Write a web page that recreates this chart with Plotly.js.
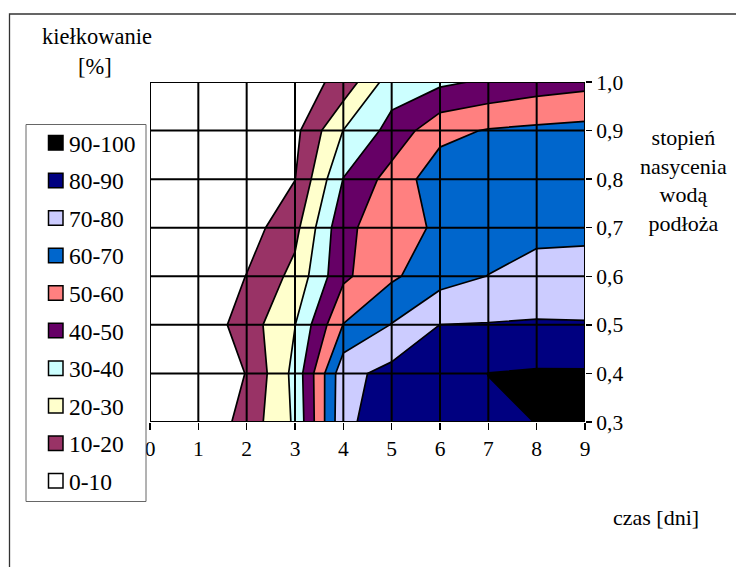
<!DOCTYPE html>
<html>
<head>
<meta charset="utf-8">
<script src="https://cdn.plot.ly/plotly-3.0.1.min.js"></script>
<style>
  html, body { margin: 0; padding: 0; background: #ffffff; }
  #chart { width: 736px; height: 567px; }
</style>
</head>
<body>
<div id="chart"></div>
<script>
// time axis [days] and water saturation of the substrate
const days = [0, 1, 2, 3, 4, 5, 6, 7, 8, 9];
const saturation = [0.3, 0.4, 0.5, 0.6, 0.7, 0.8, 0.9, 1.0];
const dayLabels = ['0', '1', '2', '3', '4', '5', '6', '7', '8', '9'];
const saturationLabels = ['0,3', '0,4', '0,5', '0,6', '0,7', '0,8', '0,9', '1,0'];

// germination [%] for each saturation level, one value per day
const germ03 = [0, 1.0, 14.0, 31.5, 78.0, 85.0, 87.0, 88.5, 90.1, 92.0];
const germ04 = [0, 0.0, 10.4, 33.0, 77.0, 83.0, 86.0, 90.1, 91.0, 91.0];
const germ05 = [0, 2.5, 15.0, 29.8, 60.3, 70.4, 80.1, 80.5, 80.8, 80.5];
const germ06 = [0, 0.0, 10.3, 23.0, 48.0, 58.5, 66.0, 70.2, 74.0, 75.0];
const germ07 = [0, 0.0, 5.5, 17.0, 47.5, 56.0, 61.5, 65.0, 67.0, 67.0];
const germ08 = [0, 0.0, 3.0, 9.8, 40.3, 54.0, 65.8, 67.0, 68.0, 68.0];
const germ09 = [0, 0.0, 0.0, 7.4, 30.2, 43.3, 57.0, 60.7, 62.0, 63.0];
const germ10 = [0, 0.0, 0.0, 4.4, 13.4, 35.4, 38.0, 41.5, 45.0, 47.0];

// contour bands (lowest first) and their fill colours
const bandLabels = ['0-10', '10-20', '20-30', '30-40', '40-50', '50-60', '60-70', '70-80', '80-90', '90-100'];
const bandColors = ['#FFFFFF', '#993366', '#FFFFCC', '#CCFFFF', '#660066', '#FF8080', '#0066CC', '#CCCCFF', '#000080', '#000000'];

const FONT = 'Liberation Serif';
const FS_TICK = 21.5;
const FS_TITLE = 22;
const FS_LEGEND = 23.5;

// plot-area geometry in pixels
const W = 736, H = 567;
const M = { l: 150, r: 151, t: 82, b: 145 };
const PW = W - M.l - M.r, PH = H - M.t - M.b;
const px = v => (v - M.l) / PW;          // pixel x -> paper x
const py = v => (H - M.b - v) / PH;      // pixel y -> paper y

// stepped colour scale: each band gets one flat colour
const nb = bandColors.length;
const colorscale = [];
bandColors.forEach((c, k) => {
  const lo = Math.max(0, (k - 0.5) / (nb - 1));
  const hi = Math.min(1, (k + 0.5) / (nb - 1));
  colorscale.push([k === 0 ? 0 : lo + 1e-6, c]);
  colorscale.push([hi, c]);
});

const z = [germ03, germ04, germ05, germ06, germ07, germ08, germ09, germ10];

const contour = {
  type: 'contour',
  x: days,
  y: saturation,
  z: z,
  autocontour: false,
  contours: { start: 10, end: 90, size: 10, coloring: 'fill', showlines: true },
  line: { color: '#000000', width: 1.7, smoothing: 0 },
  colorscale: colorscale,
  showscale: false,
  hoverinfo: 'skip'
};

const shapes = [];
// outer chart frame
shapes.push({
  type: 'rect', xref: 'paper', yref: 'paper', layer: 'below',
  x0: px(9.5), x1: px(800), y0: py(640), y1: py(14),
  line: { color: '#333333', width: 1.3 }, fillcolor: 'rgba(0,0,0,0)'
});
// grid drawn over the filled contours
days.forEach(d => shapes.push({
  type: 'line', xref: 'x', yref: 'y', layer: 'above',
  x0: d, x1: d, y0: saturation[0], y1: saturation[saturation.length - 1],
  line: { color: '#000000', width: 2 }
}));
saturation.forEach(s => shapes.push({
  type: 'line', xref: 'x', yref: 'y', layer: 'above',
  x0: days[0], x1: days[days.length - 1], y0: s, y1: s,
  line: { color: '#000000', width: 2 }
}));

// legend box with one swatch per band, highest band on top
const LEG = { x0: 26, x1: 146, y0: 124.5, y1: 501.5, top: 143.8, step: 37.55 };
shapes.push({
  type: 'rect', xref: 'paper', yref: 'paper', layer: 'above',
  x0: px(LEG.x0), x1: px(LEG.x1), y0: py(LEG.y1), y1: py(LEG.y0),
  line: { color: '#666666', width: 1 }, fillcolor: '#ffffff'
});

const annotations = [];
for (let k = 0; k < nb; k++) {
  const band = nb - 1 - k;
  const cy = LEG.top + k * LEG.step;
  shapes.push({
    type: 'rect', xref: 'paper', yref: 'paper', layer: 'above',
    x0: px(48.5), x1: px(63), y0: py(cy + 6.3), y1: py(cy - 8.2),
    line: { color: '#000000', width: 1.5 }, fillcolor: bandColors[band]
  });
  annotations.push({
    xref: 'paper', yref: 'paper', x: px(66.5), y: py(cy),
    xanchor: 'left', yanchor: 'middle', showarrow: false,
    text: bandLabels[band], font: { family: FONT, size: FS_LEGEND, color: '#000000' }
  });
}

// axis captions
annotations.push({
  xref: 'paper', yref: 'paper', x: px(96.5), y: py(36),
  xanchor: 'center', yanchor: 'middle', showarrow: false,
  text: 'kiełkowanie', font: { family: FONT, size: FS_TITLE + 0.5, color: '#000000' }
});
annotations.push({
  xref: 'paper', yref: 'paper', x: px(95), y: py(67),
  xanchor: 'center', yanchor: 'middle', showarrow: false,
  text: '[%]', font: { family: FONT, size: FS_TITLE + 0.5, color: '#000000' }
});
annotations.push({
  xref: 'paper', yref: 'paper', x: px(683), y: py(180),
  xanchor: 'center', yanchor: 'middle', align: 'center', showarrow: false,
  text: 'stopień<br>nasycenia<br>wodą<br>podłoża', font: { family: FONT, size: FS_TITLE, color: '#000000' }
});
annotations.push({
  xref: 'paper', yref: 'paper', x: px(655.5), y: py(517),
  xanchor: 'center', yanchor: 'middle', showarrow: false,
  text: 'czas [dni]', font: { family: FONT, size: FS_TITLE, color: '#000000' }
});

const layout = {
  width: W, height: H,
  margin: M,
  paper_bgcolor: '#ffffff',
  plot_bgcolor: '#ffffff',
  showlegend: false,
  font: { family: FONT, size: FS_TICK, color: '#000000' },
  xaxis: {
    range: [days[0], days[days.length - 1]],
    tickmode: 'array', tickvals: days, ticktext: dayLabels,
    ticks: 'outside', ticklen: 7, tickwidth: 1.3, tickcolor: '#000000',
    ticklabelstandoff: 0,
    showgrid: false, zeroline: false, showline: false,
    tickfont: { family: FONT, size: FS_TICK, color: '#000000' }
  },
  yaxis: {
    range: [saturation[0], saturation[saturation.length - 1]],
    side: 'right',
    tickmode: 'array', tickvals: saturation, ticktext: saturationLabels,
    ticks: 'outside', ticklen: 6, tickwidth: 1.3, tickcolor: '#000000',
    showgrid: false, zeroline: false, showline: false,
    tickfont: { family: FONT, size: FS_TICK, color: '#000000' }
  },
  shapes: shapes,
  annotations: annotations
};

Plotly.newPlot('chart', [contour], layout, { staticPlot: true, displayModeBar: false });
</script>
</body>
</html>
